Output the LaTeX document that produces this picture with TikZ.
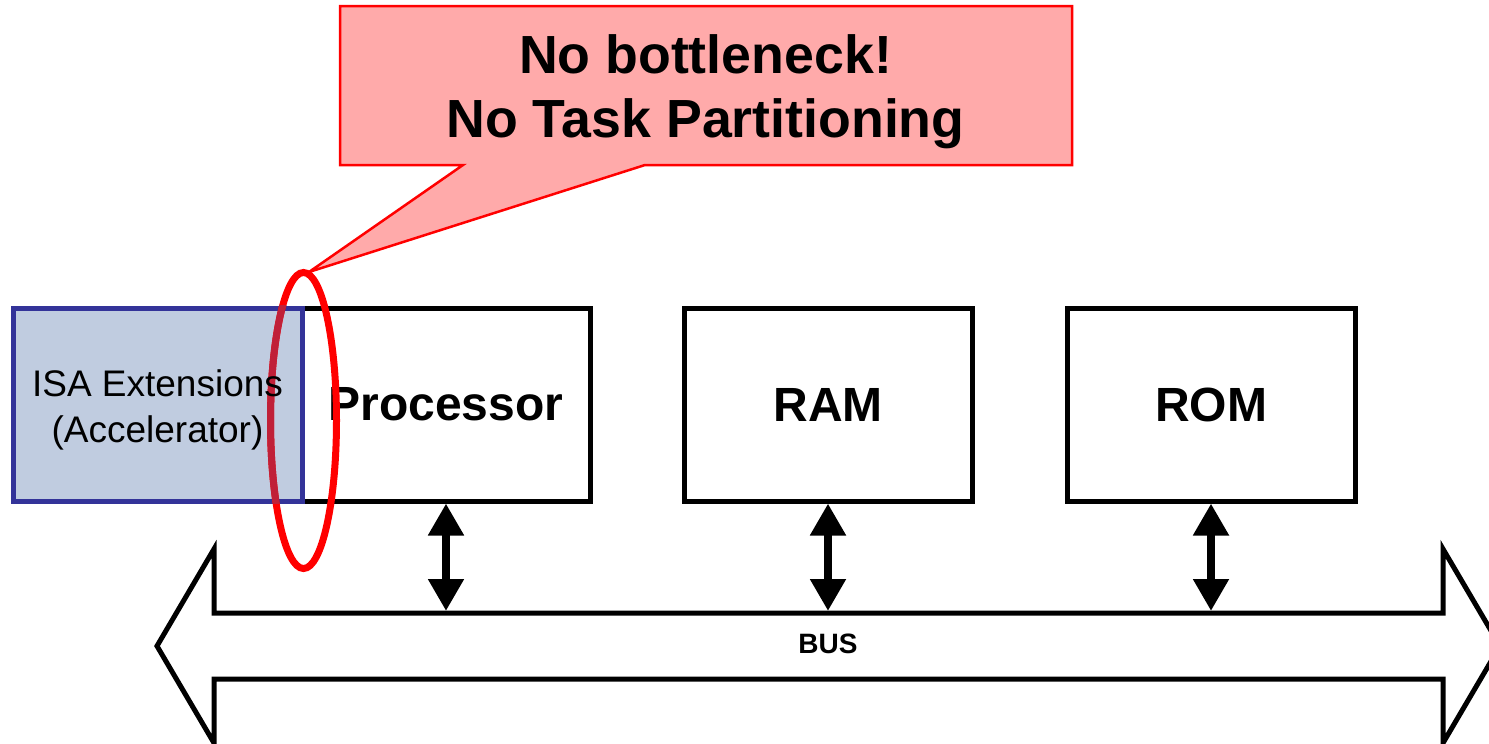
\documentclass[tikz,border=0pt]{standalone}
\usepackage{fontspec}
\setmainfont{Liberation Sans}
\usetikzlibrary{arrows.meta}
\definecolor{calloutfill}{RGB}{255,170,170}
\definecolor{accfill}{RGB}{192,204,224}
\definecolor{accline}{RGB}{51,51,153}
\definecolor{ringred}{RGB}{255,0,0}
\definecolor{ringover}{RGB}{192,32,56}
\tikzset{
  unitbox/.style={draw=black, line width=5pt, fill=white, minimum width=288pt,
    minimum height=193pt, inner sep=0pt,
    font=\fontsize{48}{48}\selectfont\bfseries},
  accbox/.style={draw=accline, line width=5pt, fill=accfill, minimum width=289pt,
    minimum height=193pt, inner sep=0pt},
  acctext/.style={anchor=base, inner sep=0pt, font=\fontsize{37}{37}\selectfont},
  callouttext/.style={anchor=base, inner sep=0pt,
    font=\fontsize{53.7}{53.7}\selectfont\bfseries},
  busarrow/.style={line width=8pt,
    {Triangle[length=32pt,width=34pt]}-{Triangle[length=32pt,width=34pt]}},
  busoutline/.style={draw=black, line width=5pt, line join=miter, fill=white},
  ring/.style={line width=7pt}
}
\begin{document}
\begin{tikzpicture}[x=1pt, y=-1pt]
\useasboundingbox (0,0) rectangle (1489,744);

% speech callout
\filldraw[fill=calloutfill, draw=ringred, line width=2.5pt, line join=miter]
  (340,6) -- (1072,6) -- (1072,165) -- (645,165) -- (309,272)
  -- (463,165) -- (340,165) -- cycle;
\node[callouttext] (line1) at (705.5,73) {No bottleneck!};
\node[callouttext] (line2) at (705.5,137) {No Task Partitioning};

% system blocks
\node[unitbox] (proc) at (446,404.5) {Processor};
\node[unitbox] (ram)  at (828,404.5) {RAM};
\node[unitbox] (rom)  at (1211,404.5) {ROM};
\node[accbox]  (acc)  at (157.5,404.5) {};

% highlight ring, darker where it lies over the accelerator
\draw[ringred, ring] (303.5,420.5) ellipse [x radius=33, y radius=148];
\begin{scope}
  \clip (10.5,305.5) rectangle (304.5,503.5);
  \draw[ringover, ring] (303.5,420.5) ellipse [x radius=33, y radius=148];
\end{scope}

\node[acctext] (isa1) at (157.5,396) {ISA Extensions};
\node[acctext] (isa2) at (157.5,442) {(Accelerator)};

% system bus
\begin{scope}
  \clip (0,0) rectangle (1489,744);
  \filldraw[busoutline]
    (157,646) -- (214,549) -- (214,613) -- (1443,613) -- (1443,549)
    -- (1500,646) -- (1443,743) -- (1443,679) -- (214,679) -- (214,743) -- cycle;
\end{scope}
\node[anchor=base, inner sep=0pt, font=\fontsize{28}{28}\selectfont\bfseries]
  (bus) at (828,653) {BUS};

\coordinate (busP) at (446,611);
\coordinate (busR) at (828,611);
\coordinate (busO) at (1211,611);

\draw[busarrow] (proc.south) -- (busP);
\draw[busarrow] (ram.south) -- (busR);
\draw[busarrow] (rom.south) -- (busO);
\end{tikzpicture}
\end{document}
